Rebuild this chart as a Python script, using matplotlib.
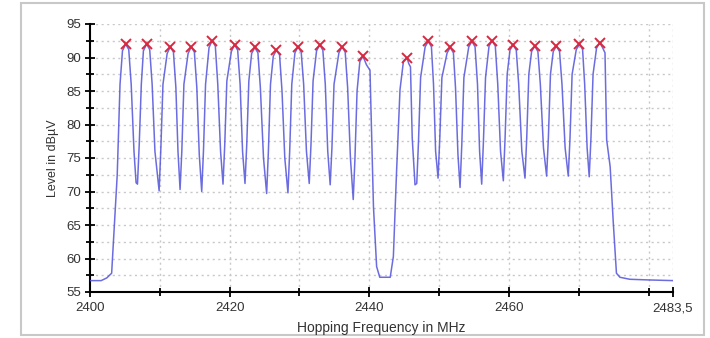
import matplotlib
matplotlib.use("Agg")
import matplotlib.pyplot as plt
from matplotlib.patches import Rectangle
from matplotlib.ticker import FixedLocator, MultipleLocator

plt.rcParams['font.family'] = ['Liberation Sans', 'DejaVu Sans']

# measured trace (MHz, dBuV), one row per hop
freq = [2400.0, 2401.6, 2402.4, 2403.1, 2403.9, 2404.3, 2404.65, 2405.1, 2405.55, 2405.9, 2406.3, 2406.6, 2406.8,
        2407.05, 2407.35, 2407.65, 2408.1, 2408.55, 2408.9, 2409.3, 2409.9,
        2410.15, 2410.45, 2411.05, 2411.5, 2411.95, 2412.3, 2412.6, 2412.9,
        2413.15, 2413.45, 2414.05, 2414.5, 2414.95, 2415.3, 2415.65, 2416.0,
        2416.25, 2416.55, 2417.05, 2417.5, 2417.95, 2418.3, 2418.7, 2419.05,
        2419.3, 2419.6, 2420.25, 2420.7, 2421.15, 2421.5, 2421.85, 2422.2,
        2422.45, 2422.75, 2423.15, 2423.6, 2424.05, 2424.4, 2424.85, 2425.3,
        2425.55, 2425.85, 2426.25, 2426.7, 2427.15, 2427.5, 2427.9, 2428.35,
        2428.6, 2428.9, 2429.35, 2429.8, 2430.25, 2430.6, 2431.0, 2431.4,
        2431.65, 2431.95, 2432.45, 2432.9, 2433.35, 2433.7, 2434.05, 2434.4,
        2434.65, 2434.95, 2435.65, 2436.1, 2436.55, 2436.9, 2437.3, 2437.7,
        2437.95, 2438.25, 2438.65, 2439.1, 2439.6, 2440.1, 2440.35, 2440.6, 2441.05, 2441.5, 2443.0, 2443.45, 2443.9, 2444.4,
        2444.9, 2445.4, 2445.65, 2445.9, 2446.15, 2446.55, 2446.8,
        2447.05, 2447.35, 2448.0, 2448.45, 2448.9, 2449.2, 2449.5, 2449.85,
        2450.1, 2450.4, 2451.15, 2451.6, 2452.05, 2452.35, 2452.7, 2453.0,
        2453.25, 2453.55, 2454.25, 2454.7, 2455.15, 2455.5, 2455.8, 2456.1,
        2456.35, 2456.65, 2457.15, 2457.6, 2458.05, 2458.4, 2458.8, 2459.2,
        2459.45, 2459.75, 2460.15, 2460.6, 2461.05, 2461.4, 2461.85, 2462.3,
        2462.55, 2462.85, 2463.25, 2463.7, 2464.15, 2464.5, 2464.95, 2465.4,
        2465.65, 2465.95, 2466.35, 2466.8, 2467.25, 2467.6, 2468.05, 2468.5,
        2468.75, 2469.05, 2469.65, 2470.1, 2470.55, 2470.85, 2471.2, 2471.5,
        2471.75, 2472.05, 2472.55, 2473.0, 2473.4, 2473.76, 2474.0, 2474.5, 2474.95, 2475.4, 2475.9, 2477.3, 2480.0, 2483.5]
level = [56.7, 56.7, 57.1, 57.8, 72.5, 86.0, 91.0, 92.0, 91.2, 86.0, 76.0, 71.3, 71.1,
         77.0, 86.0, 91.0, 92.0, 91.2, 86.0, 76.0, 70.1,
         76.5, 86.0, 90.6, 91.6, 90.8, 85.5, 76.0, 70.3,
         76.0, 86.0, 90.6, 91.6, 90.8, 85.5, 75.5, 70.0,
         76.0, 86.0, 91.5, 92.5, 91.7, 86.0, 76.0, 71.1,
         77.0, 86.5, 90.9, 91.9, 91.1, 86.0, 76.0, 71.2,
         77.0, 86.5, 90.6, 91.5, 90.7, 85.5, 75.0, 69.7,
         76.0, 86.0, 90.2, 91.1, 90.4, 85.0, 75.0, 69.8,
         76.0, 86.0, 90.7, 91.6, 90.8, 86.0, 76.0, 71.2,
         77.0, 86.5, 91.0, 91.9, 91.1, 86.0, 76.0, 71.0,
         76.5, 86.0, 90.7, 91.6, 90.8, 85.5, 75.0, 68.8,
         75.0, 85.0, 89.4, 90.2, 88.9, 88.1, 77.7, 67.7, 58.8, 57.2, 57.2, 60.3, 72.8, 85.2,
         89.5, 90.0, 89.1, 88.6, 78.0, 71.0, 71.2,
         77.5, 87.0, 91.6, 92.4, 91.6, 86.0, 76.0, 72.0,
         78.0, 87.0, 90.7, 91.5, 90.7, 85.5, 75.5, 70.6,
         77.0, 87.0, 91.6, 92.4, 91.6, 86.0, 76.0, 71.1,
         77.5, 87.0, 91.7, 92.5, 91.7, 86.0, 76.0, 71.6,
         78.0, 87.5, 91.1, 91.9, 91.1, 86.0, 76.0, 72.0,
         78.0, 87.5, 90.9, 91.7, 90.9, 86.0, 76.5, 72.3,
         78.0, 87.5, 90.9, 91.7, 90.9, 86.0, 76.5, 72.3,
         78.0, 87.5, 91.2, 92.0, 91.2, 86.0, 76.5, 72.2,
         78.0, 87.5, 91.4, 92.2, 91.5, 90.7, 77.7, 73.7, 65.3, 57.8, 57.2, 56.9, 56.8, 56.7]

# detected hop peaks
peak_freq = [2405.1, 2408.1, 2411.5, 2414.5, 2417.5, 2420.7, 2423.6, 2426.7, 2429.8, 2432.9,
             2436.1, 2439.1, 2445.4, 2448.45, 2451.6, 2454.7, 2457.6, 2460.6, 2463.7, 2466.8,
             2470.1, 2473.0]
peak_level = [92.0, 92.0, 91.6, 91.6, 92.5, 91.9, 91.5, 91.1, 91.6, 91.9,
              91.6, 90.2, 90.0, 92.4, 91.5, 92.4, 92.5, 91.9, 91.7, 91.7,
              92.0, 92.2]

x_labels = ["2400", "2420", "2440", "2460", "2483,5"]
x_major = [2400, 2420, 2440, 2460, 2483.5]
x_minor = [2410, 2430, 2450, 2470, 2480]

fig = plt.figure(figsize=(7.1, 3.38), dpi=100)
fig.patches.append(Rectangle((21 / 710, 3 / 338), 683 / 710, 332 / 338,
                             transform=fig.transFigure, fill=False,
                             edgecolor='#c8c8c8', lw=1.5))
ax = fig.add_axes([90 / 710, 1 - 292 / 338, 583 / 710, 268 / 338])

ax.plot(freq, level, color='#5252dc', lw=1.1, alpha=0.85, zorder=3)
ax.plot(peak_freq, peak_level, 'x', color='#d8283f', ms=7, mew=1.4, zorder=4)

ax.set_xlim(2400, 2483.5)
ax.set_ylim(55, 95)

ax.xaxis.set_major_locator(FixedLocator(x_major))
ax.set_xticklabels(x_labels)
ax.xaxis.set_minor_locator(FixedLocator(x_minor))
ax.yaxis.set_major_locator(MultipleLocator(5))
ax.yaxis.set_minor_locator(MultipleLocator(2.5))

ax.tick_params(which='both', direction='inout', colors='black', labelcolor='#333333',
               labelsize=9.5, width=1.3)
ax.tick_params(which='major', length=7)
ax.tick_params(which='minor', length=6)
ax.tick_params(axis='x', pad=4)
ax.tick_params(axis='y', pad=3)

# grid every 10 MHz and every 2.5 dB
for gx in [2410, 2420, 2430, 2440, 2450, 2460, 2470, 2480, 2483.5]:
    ax.axvline(gx, color='#c8c8c8', ls=(0, (1.5, 2.5)), lw=1.0, zorder=1)
for i in range(1, 17):
    ax.axhline(55 + 2.5 * i, color='#c8c8c8', ls=(0, (1.5, 2.5)), lw=1.0, zorder=1)

for s in ['top', 'right']:
    ax.spines[s].set_visible(False)
for s in ['left', 'bottom']:
    ax.spines[s].set_linewidth(1.5)

fig.text(381 / 710, 1 - 328 / 338, "Hopping Frequency in MHz", ha='center', va='center',
         fontsize=10, color='#333333')
fig.text(53 / 710, 1 - 158 / 338, "Level in dBµV", ha='center', va='center',
         rotation=90, fontsize=9, color='#333333')

fig.savefig("out.png", dpi=100)
